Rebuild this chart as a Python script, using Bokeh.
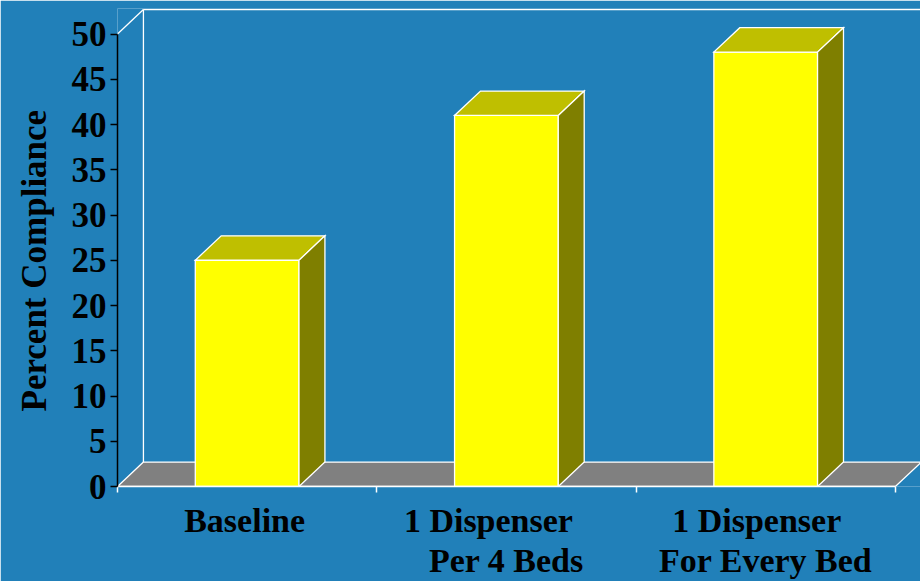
from bokeh.plotting import figure
from bokeh.models import Range1d, FixedTicker, LinearAxis, Title
from bokeh.embed import file_html
from bokeh.resources import INLINE

# ---- data ----
label_line1 = ["Baseline", "1 Dispenser", "1 Dispenser"]
label_line2 = ["", "Per 4 Beds", "For Every Bed"]
compliance = [25, 41, 48]
y_ticks = [0, 5, 10, 15, 20, 25, 30, 35, 40, 45, 50]
y_max = 50
y_title = "Percent Compliance"

# ---- style ----
BG = "#2180b9"
FONT = "Liberation Serif"
DX = 0.1      # 3-D depth (category units)
DY = 2.7      # 3-D depth (percent units)
BAR_W = 0.4
EDGE = "white"
LW = 1.3
X_END = 3.097
PX_PER_CAT = 803 / X_END
LINE1_SHIFT = [-2.5, -18, -9]   # px, horizontal nudge of first label line

n = len(compliance)
p = figure(width=920, height=581, output_backend="svg", toolbar_location=None,
           x_range=Range1d(0, X_END), y_range=Range1d(0, 52.82),
           x_axis_location=None, y_axis_location=None,
           min_border_left=117, min_border_right=0, min_border_top=8, min_border_bottom=94,
           background_fill_color=BG, border_fill_color=BG, outline_line_color=None)
p.grid.visible = False

# y axis
yaxis = LinearAxis(ticker=FixedTicker(ticks=y_ticks), bounds=(0, y_max))
yaxis.axis_line_color = "black"
yaxis.axis_line_width = 1.5
yaxis.major_tick_line_color = "black"
yaxis.major_tick_line_width = 1.5
yaxis.major_tick_in = 0
yaxis.major_tick_out = 7
yaxis.minor_tick_line_color = None
yaxis.major_label_text_font = FONT
yaxis.major_label_text_font_style = "bold"
yaxis.major_label_text_font_size = "35px"
yaxis.major_label_text_color = "black"
yaxis.major_label_standoff = 4
p.add_layout(yaxis, "left")

# y title
p.add_layout(Title(text=y_title, align="left", offset=75, vertical_align="top", standoff=25,
                   text_font=FONT, text_font_style="bold", text_font_size="35px",
                   text_color="black"), "left")

# x axis A: boundary ticks + first label line
centers = [i + 0.5 for i in range(n)]
pos1 = [c + s / PX_PER_CAT for c, s in zip(centers, LINE1_SHIFT)]
xa = LinearAxis(ticker=FixedTicker(ticks=pos1, minor_ticks=list(range(n + 1))), bounds=(0, n))
xa.major_label_overrides = {t: lab for t, lab in zip(pos1, label_line1)}
xa.axis_line_color = EDGE
xa.axis_line_width = 1.5
xa.major_tick_line_color = None
xa.major_tick_in = 0
xa.major_tick_out = 0
xa.minor_tick_line_color = EDGE
xa.minor_tick_line_width = 1.5
xa.minor_tick_in = 0
xa.minor_tick_out = 6
xa.major_label_text_font = FONT
xa.major_label_text_font_style = "bold"
xa.major_label_text_font_size = "34px"
xa.major_label_text_color = "black"
xa.major_label_standoff = 9
p.add_layout(xa, "below")

# x axis B: second label line
pos2 = [c for c, l in zip(centers, label_line2) if l]
xb = LinearAxis(ticker=FixedTicker(ticks=pos2, minor_ticks=[]))
xb.major_label_overrides = {c: l for c, l in zip(centers, label_line2) if l}
xb.axis_line_color = None
xb.major_tick_line_color = None
xb.minor_tick_line_color = None
xb.major_tick_in = 0
xb.major_tick_out = 0
xb.major_label_text_font = FONT
xb.major_label_text_font_style = "bold"
xb.major_label_text_font_size = "34px"
xb.major_label_text_color = "black"
xb.major_label_standoff = 0
p.add_layout(xb, "below")

# back wall edges
p.multi_line(xs=[[0, DX], [DX, DX], [DX, n + DX]],
             ys=[[y_max, y_max + DY], [DY, y_max + DY], [y_max + DY, y_max + DY]],
             line_color=EDGE, line_width=LW)

# floor
p.patch(x=[0, n, n + DX, DX], y=[0, 0, DY, DY], fill_color="#808080",
        line_color=EDGE, line_width=LW)

# bars
lefts = [c - BAR_W / 2 for c in centers]
rights = [c + BAR_W / 2 for c in centers]
p.quad(left=lefts, right=rights, bottom=0, top=compliance,
       fill_color="#ffff00", line_color=EDGE, line_width=LW, line_join="miter")
p.patches(xs=[[l, r, r + DX, l + DX] for l, r in zip(lefts, rights)],
          ys=[[v, v, v + DY, v + DY] for v in compliance],
          fill_color="#bfbf00", line_color=EDGE, line_width=LW, line_join="miter")
p.patches(xs=[[r, r + DX, r + DX, r] for r in rights],
          ys=[[0, DY, v + DY, v] for v in compliance],
          fill_color="#7f7f00", line_color=EDGE, line_width=LW, line_join="miter")

open("out.html", "w").write(file_html(p, INLINE))
